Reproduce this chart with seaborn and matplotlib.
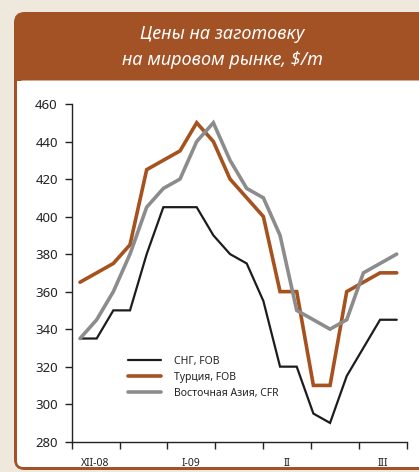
import numpy as np
import pandas as pd
import seaborn as sns
import matplotlib
matplotlib.use("Agg")
import matplotlib.pyplot as plt
from matplotlib.patches import FancyBboxPatch, Rectangle

# ---------------- data ----------------
periods = list(range(20))
cis_fob = [335, 335, 350, 350, 380, 405, 405, 405, 390, 380,
           375, 355, 320, 320, 295, 290, 315, 330, 345, 345]
turkey_fob = [365, 370, 375, 385, 425, 430, 435, 450, 440, 420,
              410, 400, 360, 360, 310, 310, 360, 365, 370, 370]
east_asia_cfr = [335, 345, 360, 380, 405, 415, 420, 440, 450, 430,
                 415, 410, 390, 350, 345, 340, 345, 370, 375, 380]
series_names = ["СНГ, FOB", "Турция, FOB", "Восточная Азия, CFR"]
month_labels = ["XII-08", "I-09", "II", "III"]
y_ticks = [280, 300, 320, 340, 360, 380, 400, 420, 440, 460]
title_text = "Цены на заготовку\nна мировом рынке, $/m"

df = pd.DataFrame({
    "period": periods * 3,
    "price": cis_fob + turkey_fob + east_asia_cfr,
    "series": [series_names[0]] * 20 + [series_names[1]] * 20 + [series_names[2]] * 20,
})

# ---------------- style ----------------
sns.set_style("ticks")
plt.rcParams["font.family"] = ["Noto Sans", "DejaVu Sans"]

W, H = 419, 472
fig = plt.figure(figsize=(W / 100, H / 100), dpi=100)
bg = "#efe9dd"
brown = "#a35225"
fig.patch.set_facecolor(bg)

def px_rect(x0, y0, x1, y1):
    return (x0 / W, 1 - y1 / H, (x1 - x0) / W, (y1 - y0) / H)

# panel (brown rounded), white inner area
x, y, w, h = px_rect(14, 12, 440, 470)
panel = FancyBboxPatch((x, y), w, h, boxstyle="round,pad=0,rounding_size=0.025",
                       transform=fig.transFigure, facecolor=brown, edgecolor="none",
                       mutation_aspect=W / H, zorder=-10)
fig.patches.append(panel)
x, y, w, h = px_rect(17, 80.5, 440, 467)
inner = FancyBboxPatch((x, y), w, h, boxstyle="round,pad=0,rounding_size=0.015",
                       transform=fig.transFigure, facecolor="white", edgecolor="none",
                       mutation_aspect=W / H, zorder=-9)
fig.patches.append(inner)
x, y, w, h = px_rect(17, 80.5, 440, 140)
fig.patches.append(Rectangle((x, y), w, h, transform=fig.transFigure,
                             facecolor="white", edgecolor="none", zorder=-8))

fig.text(222 / W, 1 - 47 / H, title_text, ha="center", va="center",
         color="white", fontsize=13, fontstyle="italic", fontweight="light",
         linespacing=1.6, family=["Noto Sans", "DejaVu Sans"])

# axes
ax_l, ax_r = 71.7, 406.7
ax_t, ax_b = 104, 441.7
ax = fig.add_axes([ax_l / W, 1 - ax_b / H, (ax_r - ax_l) / W, (ax_b - ax_t) / H])
ax.set_facecolor("none")

palette = {series_names[0]: "#1c1c1c", series_names[1]: "#a6521f", series_names[2]: "#8c8c8c"}
widths = {series_names[0]: 1.6, series_names[1]: 2.6, series_names[2]: 2.6}
for name in series_names:
    sub = df[df["series"] == name]
    sns.lineplot(data=sub, x="period", y="price", color=palette[name],
                 linewidth=widths[name], label=name, ax=ax,
                 solid_joinstyle="miter")

x0 = (ax_l - 80) / 16.67
x1 = (ax_r - 80) / 16.67
ax.set_xlim(x0, x1)
ax.set_ylim(280, 460)
step = (x1 - x0) / 7
major = [x0 + k * step for k in range(8)]
ax.set_xticks(major)
ax.set_xticklabels([""] * 8)
ax.set_xticks([x0 + (2 * k + 0.5) * step for k in range(4)], minor=True)
ax.set_xticklabels(month_labels, minor=True, family=["Noto Sans", "DejaVu Sans"])
ax.tick_params(axis="x", which="minor", length=0, pad=12, labelsize=7.5, colors="#222222")
ax.tick_params(axis="x", which="major", length=5, width=1, direction="out", color="#222222")
ax.set_yticks(y_ticks)
ax.tick_params(axis="y", length=5, width=1, direction="out", pad=5, labelsize=9.5,
               colors="#222222")
ax.set_xlabel("")
ax.set_ylabel("")
for s in ["top", "right"]:
    ax.spines[s].set_visible(False)
for s in ["left", "bottom"]:
    ax.spines[s].set_linewidth(1)
    ax.spines[s].set_color("#222222")

leg = ax.legend(loc="upper left", bbox_to_anchor=((128 - ax_l) / (ax_r - ax_l), 1 - (355.5 - ax_t) / (ax_b - ax_t)),
                frameon=False, fontsize=7.5, handlelength=3.2, handletextpad=1.2,
                labelspacing=0.5, borderpad=0, borderaxespad=0)
for t in leg.get_texts():
    t.set_color("#222222")

fig.savefig("out.png", dpi=100, facecolor=bg)
